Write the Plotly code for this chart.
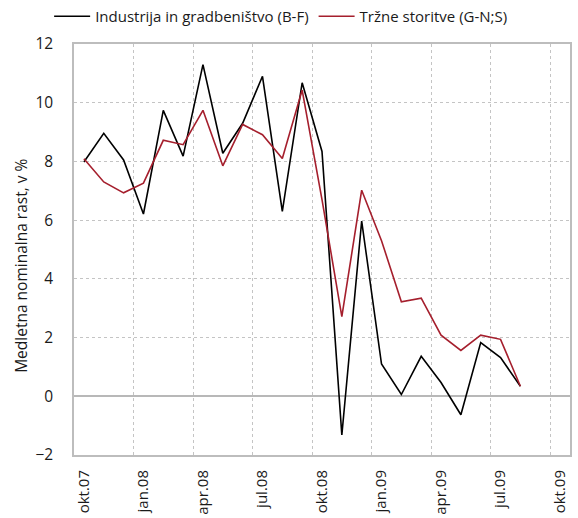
import plotly.graph_objects as go

months = ["okt.07", "nov.07", "dec.07", "jan.08", "feb.08", "mar.08", "apr.08", "maj.08",
          "jun.08", "jul.08", "avg.08", "sep.08", "okt.08", "nov.08", "dec.08", "jan.09",
          "feb.09", "mar.09", "apr.09", "maj.09", "jun.09", "jul.09", "avg.09", "sep.09", "okt.09"]

industrija = [7.98, 8.96, 8.05, 6.21, 9.74, 8.18, 11.3, 8.28, 9.30, 10.9, 6.30, 10.68,
              8.34, -1.32, 5.97, 1.10, 0.06, 1.36, 0.47, -0.63, 1.83, 1.32, 0.34]
storitve = [8.09, 7.30, 6.93, 7.26, 8.72, 8.57, 9.74, 7.85, 9.26, 8.91, 8.10, 10.43,
            6.70, 2.71, 7.02, 5.30, 3.22, 3.34, 2.08, 1.56, 2.08, 1.94, 0.34]

name_ind = "Industrija in gradbeništvo (B-F)"
name_sto = "Tržne storitve (G-N;S)"
y_title = "Medletna nominalna rast, v %"

idx = list(range(len(months)))
tick_idx = idx[::3]
tick_text = [months[i] for i in tick_idx]
grid_idx = [i - 0.5 for i in tick_idx[1:]]
x_range = [-0.5, len(months) - 0.5]

font_family = "Open Sans, Noto Sans, sans-serif"
grid_col = "#c4c4c4"
frame_col = "#bdbdbd"
text_col = "#1a1a1a"

fig = go.Figure()
fig.add_trace(go.Scatter(x=idx[:len(industrija)], y=industrija, mode="lines", name=name_ind,
                         line=dict(color="#000000", width=1.6), xaxis="x"))
fig.add_trace(go.Scatter(x=idx[:len(storitve)], y=storitve, mode="lines", name=name_sto,
                         line=dict(color="#a51f2d", width=1.6), xaxis="x2"))

fig.update_layout(
    width=578, height=518,
    margin=dict(l=74, r=8, t=44, b=63),
    paper_bgcolor="white", plot_bgcolor="white",
    font=dict(family=font_family, size=15, color=text_col),
    legend=dict(orientation="h", xref="container", x=0.085, xanchor="left",
                yref="container", y=1.0, yanchor="top",
                font=dict(size=15), itemwidth=36, tracegroupgap=0,
                bgcolor="rgba(0,0,0,0)"),
    showlegend=True,
    xaxis=dict(
        range=x_range, automargin=False,
        tickmode="array", tickvals=grid_idx, showticklabels=False,
        showgrid=True, gridcolor=grid_col, griddash="dot", gridwidth=1,
        zeroline=False, ticks="",
        showline=True, linecolor=frame_col, linewidth=1.5, mirror=True,
    ),
    xaxis2=dict(
        range=x_range, automargin=False, overlaying="x", anchor="y", side="bottom",
        tickmode="array", tickvals=tick_idx, ticktext=tick_text, tickangle=-90,
        showgrid=False, zeroline=False, ticks="", ticklabelstandoff=11,
        showline=False, tickfont=dict(size=15),
    ),
    yaxis=dict(
        range=[-2, 12], automargin=False, tickmode="linear", tick0=-2, dtick=2,
        showgrid=True, gridcolor=grid_col, griddash="dot", gridwidth=1,
        zeroline=True, zerolinecolor="#b8b8b8", zerolinewidth=2,
        showline=True, linecolor=frame_col, linewidth=1.5, mirror=True,
        ticks="", ticklabelstandoff=16, tickfont=dict(size=15.5),
    ),
    annotations=[dict(
        text=y_title, textangle=-90, showarrow=False,
        xref="paper", yref="paper", x=-0.107, y=0.46,
        xanchor="center", yanchor="middle", font=dict(size=15.5, color=text_col),
    )],
)

fig.write_html("out.html", post_script="document.body.style.margin='0';",
               config={"displayModeBar": False})
